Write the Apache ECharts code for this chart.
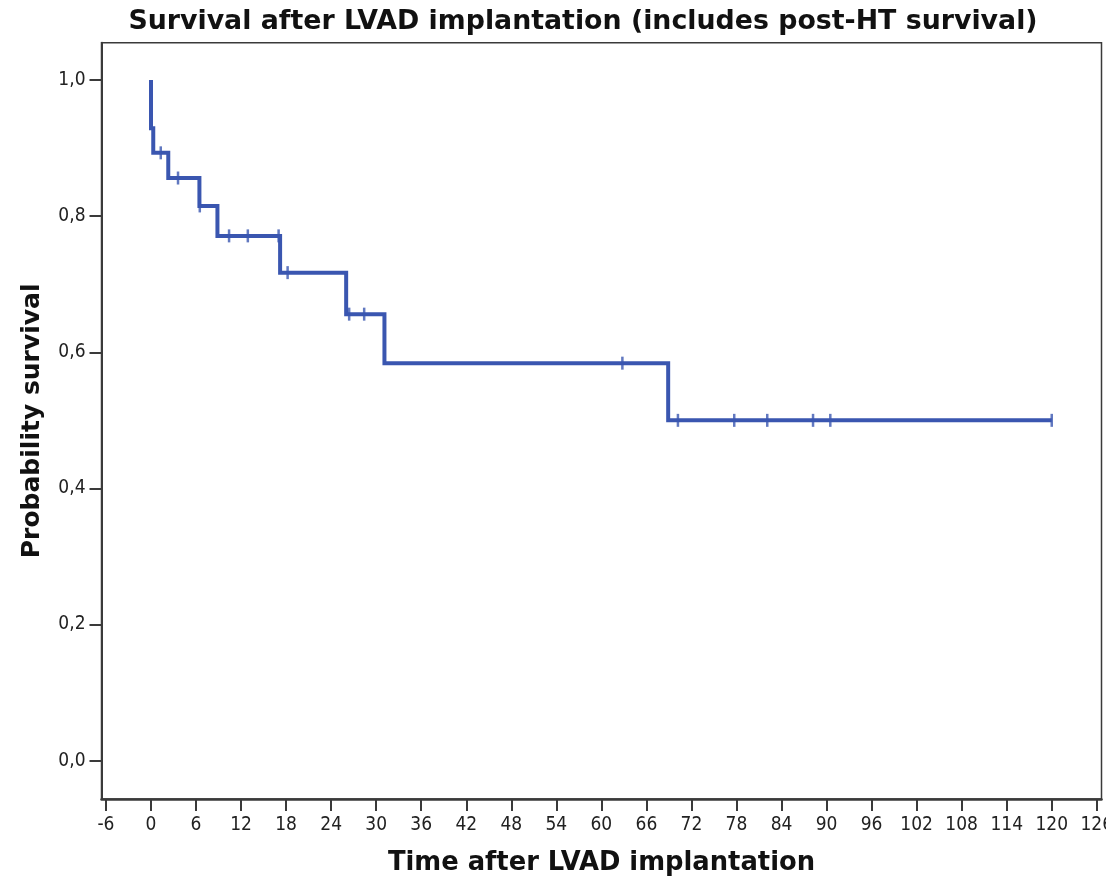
<!DOCTYPE html>
<html>
<head>
<meta charset="utf-8">
<script src="https://cdn.jsdelivr.net/npm/echarts@6/dist/echarts.min.js"></script>
<style>
  html, body { margin: 0; padding: 0; background: #fff; }
  #chart { width: 1106px; height: 880px; }
</style>
</head>
<body>
<div id="chart"></div>
<script>
// Kaplan-Meier steps: time (months) and survival after the step
const stepTimes = [0, 0, 0.3, 2.3, 6.45, 8.85, 17.2, 26.0, 31.1, 68.9, 120];
const stepSurvival = [1.0, 0.929, 0.893, 0.856, 0.815, 0.771, 0.717, 0.656, 0.584, 0.5, 0.5];

// censored observations
const censorTimes = [1.3, 3.6, 6.5, 10.4, 12.9, 17.0, 18.2, 26.4, 28.4, 62.8, 70.2, 77.7, 82.1, 88.2, 90.5, 120];
const censorSurvival = [0.893, 0.856, 0.815, 0.771, 0.771, 0.771, 0.717, 0.656, 0.656, 0.584, 0.5, 0.5, 0.5, 0.5, 0.5, 0.5];

const xTicks = [-6, 0, 6, 12, 18, 24, 30, 36, 42, 48, 54, 60, 66, 72, 78, 84, 90, 96, 102, 108, 114, 120, 126];
const yTicks = [0, 0.2, 0.4, 0.6, 0.8, 1.0];

const lineColor = "#3a56b0";
const axisColor = "#3a3a3a";
const nameFont = { fontFamily: "DejaVu Sans", fontWeight: "bold", fontSize: 25, color: "#111" };
const tickFont = { fontFamily: "DejaVu Sans Condensed", fontSize: 19, color: "#222" };

const chart = echarts.init(document.getElementById("chart"));

chart.setOption({
  animation: false,
  backgroundColor: "#fff",
  title: {
    text: "Survival after LVAD implantation (includes post-HT survival)",
    left: 578,
    textAlign: "center",
    top: 4,
    textStyle: { ...nameFont, fontSize: 26.8 }
  },
  grid: {
    left: 101.5,
    top: 42.7,
    right: 4.5,
    bottom: 81,
    outerBoundsMode: "none",
    containLabel: false,
    show: true,
    borderColor: axisColor,
    borderWidth: 1.5,
    backgroundColor: "#fff"
  },
  xAxis: {
    type: "value",
    min: -6.595,
    max: 126.63,
    name: "Time after LVAD implantation",
    nameLocation: "middle",
    nameGap: 51,
    nameTextStyle: { ...nameFont, fontSize: 25.8 },
    axisLine: { show: true, onZero: false, lineStyle: { color: axisColor, width: 2.5 } },
    axisTick: { show: true, inside: false, customValues: xTicks, length: 12, lineStyle: { color: axisColor, width: 2 } },
    axisLabel: {
      ...tickFont,
      customValues: xTicks,
      margin: 17,
      formatter: v => String(v)
    },
    splitLine: { show: false }
  },
  yAxis: {
    type: "value",
    min: -0.0563,
    max: 1.0548,
    name: "Probability survival",
    nameLocation: "middle",
    nameGap: 57,
    nameTextStyle: nameFont,
    axisLine: { show: true, onZero: false, lineStyle: { color: axisColor, width: 2 } },
    axisTick: { show: true, inside: false, customValues: yTicks, length: 12, lineStyle: { color: axisColor, width: 2 } },
    axisLabel: {
      ...tickFont,
      customValues: yTicks,
      margin: 16,
      formatter: v => v.toFixed(1).replace(".", ",")
    },
    splitLine: { show: false }
  },
  series: [
    {
      type: "line",
      step: "end",
      data: stepTimes.map((t, i) => [t, stepSurvival[i]]),
      symbol: "none",
      lineStyle: { color: lineColor, width: 4, join: "miter" },
      z: 2
    },
    {
      type: "scatter",
      data: censorTimes.map((t, i) => [t, censorSurvival[i]]),
      symbol: "rect",
      symbolSize: [2.5, 13],
      itemStyle: { color: lineColor },
      z: 3
    }
  ]
});
</script>
</body>
</html>
